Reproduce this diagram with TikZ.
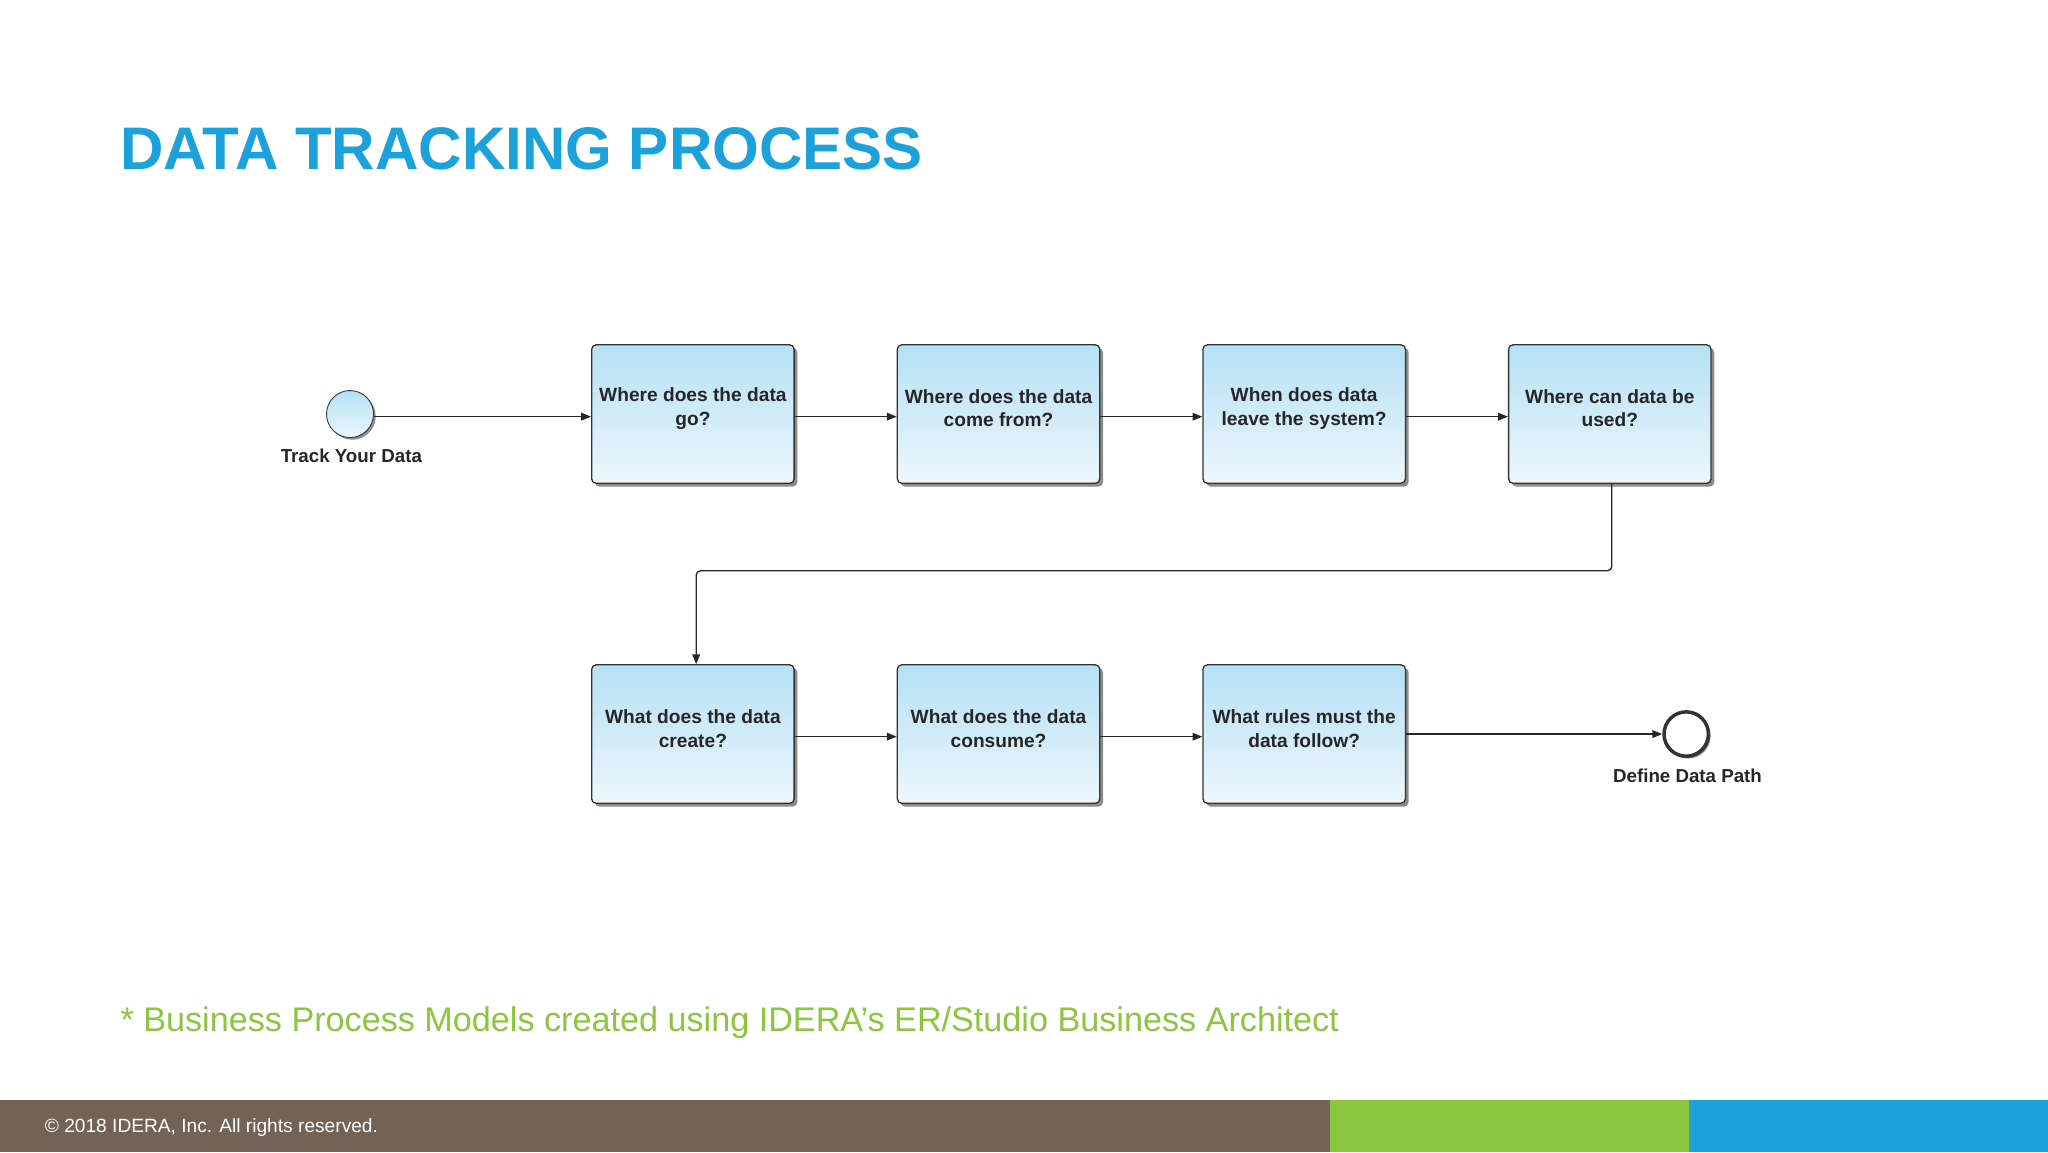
\documentclass[tikz,border=0pt]{standalone}
\usepackage{fontspec}
\setmainfont{Liberation Sans}
\usetikzlibrary{arrows.meta,shadows}
\definecolor{ideablue}{HTML}{1BA1DC}
\definecolor{ideagreen}{HTML}{8CC63F}
\definecolor{ideabrown}{HTML}{736357}
\definecolor{boxtop}{HTML}{B5E0F5}
\definecolor{boxbot}{HTML}{EDF7FC}
\begin{document}
\begin{tikzpicture}[x=0.6pt,y=-0.6pt,
 box/.style={draw=black!80,line width=0.6pt,rounded corners=2pt,top color=boxtop,bottom color=boxbot,
   minimum width=93pt,minimum height=63.6pt,inner sep=0pt,
   label={[align=center,font=\bfseries\fontsize{8.8}{10.8}\selectfont,text=black!85,yshift=2.6pt]center:#1},
   drop shadow={shadow xshift=1.5pt,shadow yshift=-1.5pt,fill=black!45,opacity=1}},
 ev/.style={circle,draw=black!80,minimum size=21.6pt,inner sep=0,top color=boxtop,bottom color=boxbot,
   drop shadow={shadow xshift=1pt,shadow yshift=-1pt,fill=black!45,opacity=1}},
 lbl/.style={font=\bfseries\fontsize{8.6}{10}\selectfont,text=black!85},
 conn/.style={draw=black!85,line width=0.6pt,-{Triangle[length=4.5pt,width=3.5pt]}}]
\useasboundingbox (0,0) rectangle (1568,882);
\fill[white] (0,0) rectangle (1568,882);
\node[anchor=base west,text=ideablue,font=\bfseries\fontsize{27.6}{30}\selectfont,inner sep=0] (title) at (92,130) {DATA TRACKING PROCESS};
\node[ev] (s) at (268,317) {};
\node[lbl,anchor=north] (sl) at (269,338) {Track Your Data};
\node[box={Where does the data\\go?}] (b1) at (530.5,317) {};
\node[box={Where does the data\\come from?}] (b2) at (764.5,317) {};
\node[box={When does data\\leave the system?}] (b3) at (998.5,317) {};
\node[box={Where can data be\\used?}] (b4) at (1232.5,317) {};
\node[box={What does the data\\create?}] (c1) at (530.5,562) {};
\node[box={What does the data\\consume?}] (c2) at (764.5,562) {};
\node[box={What rules must the\\data follow?}] (c3) at (998.5,562) {};
\node[ev,line width=1.6pt,top color=white,bottom color=white,minimum size=20.4pt] (e) at (1291,562) {};
\node[lbl,anchor=north] (el) at (1292,583) {Define Data Path};
\draw[conn] (s.east |- 0,319) -- (b1.west |- 0,319);
\draw[conn] (b1.east |- 0,319) -- (b2.west |- 0,319);
\draw[conn] (b2.east |- 0,319) -- (b3.west |- 0,319);
\draw[conn] (b3.east |- 0,319) -- (b4.west |- 0,319);
\draw[conn,rounded corners=2pt] (b4.south -| 1234,0) -- (1234,437) -- (533,437) -- (c1.north -| 533,0);
\draw[conn] (c1.east |- 0,564) -- (c2.west |- 0,564);
\draw[conn] (c2.east |- 0,564) -- (c3.west |- 0,564);
\draw[conn] (c3.east |- 0,562) -- (e.west);
\node[anchor=base west,text=ideagreen,font=\fontsize{15.7}{17}\selectfont,inner sep=0] (note) at (92,790) {* Business Process Models created using IDERA’s ER/Studio Business Architect};
\fill[ideabrown] (0,842) rectangle (1018,882);
\fill[ideagreen] (1018,842) rectangle (1293,882);
\fill[ideablue] (1293,842) rectangle (1568,882);
\node[anchor=base west,text=white,font=\fontsize{8.8}{10}\selectfont,inner sep=0] (foot) at (34,867) {© 2018 IDERA, Inc. All rights reserved.};
\end{tikzpicture}
\end{document}
